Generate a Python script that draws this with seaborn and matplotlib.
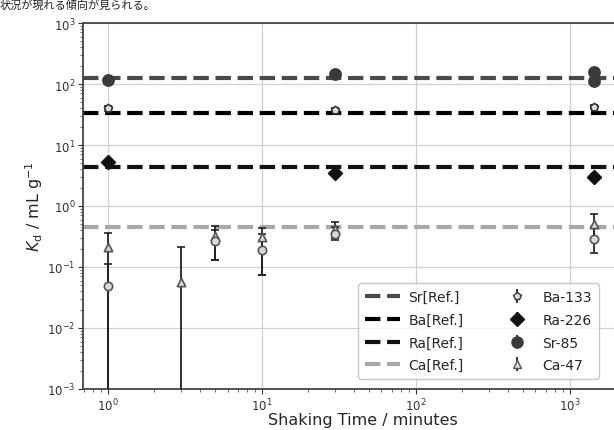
import numpy as np
import pandas as pd
import matplotlib
matplotlib.use("Agg")
import matplotlib.pyplot as plt
import seaborn as sns
from matplotlib.lines import Line2D
from matplotlib.ticker import NullFormatter, FixedLocator

# ---------------- data ----------------
ref_labels = ["Sr[Ref.]", "Ba[Ref.]", "Ra[Ref.]", "Ca[Ref.]"]
ref_values = [125.0, 33.0, 4.3, 0.45]

ba_x = [1, 30, 1440]
ba_y = [40.0, 38.0, 42.0]
ba_lo = [36.0, 35.0, 39.0]
ba_hi = [44.0, 41.0, 45.0]

ra_x = [1, 30, 1440]
ra_y = [5.2, 3.5, 3.0]
ra_lo = [4.8, 3.2, 2.7]
ra_hi = [5.6, 3.8, 3.3]

sr_x = [1, 30, 1440, 1440]
sr_y = [115.0, 145.0, 155.0, 110.0]
sr_lo = [105.0, 135.0, 140.0, 100.0]
sr_hi = [125.0, 155.0, 170.0, 120.0]

ca_x = [1, 3, 5, 10, 30, 1440]
ca_y = [0.21, 0.056, 0.32, 0.31, 0.42, 0.50]
ca_lo = [1e-5, 1e-5, 0.13, 0.075, 0.30, 0.30]
ca_hi = [0.36, 0.21, 0.47, 0.43, 0.55, 0.75]

ca2_x = [1, 5, 10, 30, 1440]
ca2_y = [0.048, 0.27, 0.19, 0.35, 0.29]
ca2_lo = [1e-5, 0.13, 0.075, 0.28, 0.17]
ca2_hi = [0.11, 0.40, 0.35, 0.45, 0.45]

x_ticks = [1, 10, 100, 1000]
y_ticks = [1e-3, 1e-2, 1e-1, 1, 10, 100, 1000]

x_label = "Shaking Time / minutes"
y_label = r"$K_\mathrm{d}$ / mL g$^{-1}$"
top_text = "状況が現れる傾向が見られる。"

# ---------------- style ----------------
sns.set_style("ticks")
plt.rcParams["font.family"] = ["DejaVu Sans", "Noto Sans CJK JP"]

fig = plt.figure(figsize=(6.14, 4.31), dpi=100)
ax = fig.add_axes([83 / 614, 41 / 431, 560 / 614, 366 / 431])

ref_colors = ["#4a4a4a", "#000000", "#111111", "#a8a8a8"]
ref_handles = []
for lab, val, col in zip(ref_labels, ref_values, ref_colors):
    ax.axhline(val, color=col, lw=3, ls="--", dashes=(3.7, 1.6), zorder=2)
    ref_handles.append(Line2D([], [], color=col, lw=3, ls="--", dashes=(3.7, 1.6)))


def series(x, y, lo, hi):
    y = np.asarray(y)
    return pd.DataFrame({"x": x, "y": y}), np.vstack([y - np.asarray(lo), np.asarray(hi) - y])


pt_handles = []
specs = [
    ("Ba-133", ba_x, ba_y, ba_lo, ba_hi, "p", 6, "#dcdcdc", "#333333"),
    ("Ra-226", ra_x, ra_y, ra_lo, ra_hi, "D", 7, "#111111", "#111111"),
    ("Sr-85", sr_x, sr_y, sr_lo, sr_hi, "o", 8, "#3a3a3a", "#3a3a3a"),
    ("Ca-47", ca_x, ca_y, ca_lo, ca_hi, "^", 6, "#d8d8d8", "#555555"),
]
for lab, x, y, lo, hi, mk, ms, fc, ec in specs:
    df, err = series(x, y, lo, hi)
    ax.errorbar(df["x"], df["y"], yerr=err, fmt="none", ecolor="#222222",
                elinewidth=1.3, capsize=3, capthick=1.2, zorder=3)
    sns.scatterplot(data=df, x="x", y="y", marker=mk, s=ms ** 2, color=fc,
                    edgecolor=ec, linewidth=1.2, ax=ax, zorder=4, legend=False)
    pt_handles.append(ax.errorbar([], [], yerr=[], fmt=mk, ms=ms, mfc=fc, mec=ec,
                                  ecolor="#222222", capsize=3, elinewidth=1.3))

# replicate Ca-47 run
df2, err2 = series(ca2_x, ca2_y, ca2_lo, ca2_hi)
ax.errorbar(df2["x"], df2["y"], yerr=err2, fmt="none", ecolor="#222222",
            elinewidth=1.3, capsize=3, capthick=1.2, zorder=3)
sns.scatterplot(data=df2, x="x", y="y", marker="o", s=36, color="#d8d8d8",
                edgecolor="#555555", linewidth=1.2, ax=ax, zorder=4, legend=False)

ax.set_xscale("log")
ax.set_yscale("log")
ax.set_xlim(0.69, 3000)
ax.set_ylim(1e-3, 1e3)
ax.xaxis.set_major_locator(FixedLocator(x_ticks))
ax.yaxis.set_major_locator(FixedLocator(y_ticks))
ax.xaxis.set_minor_formatter(NullFormatter())
ax.yaxis.set_minor_formatter(NullFormatter())
ax.grid(True, which="major", color="#d0d0d0", lw=0.9)
ax.set_axisbelow(True)
for s in ["left", "bottom", "top"]:
    ax.spines[s].set_color("#444444")
    ax.spines[s].set_linewidth(1.3)
ax.tick_params(axis="both", which="major", labelsize=8.5, colors="#333333", length=3.5, pad=2)
ax.tick_params(axis="both", which="minor", length=2, colors="#555555")
ax.set_xlabel(x_label, fontsize=11.5, labelpad=-1)
ax.set_ylabel(y_label, fontsize=11.5, labelpad=1)

leg = fig.legend(ref_handles + pt_handles, ref_labels + [s[0] for s in specs],
                 ncol=2, fontsize=10, loc="lower right",
                 bbox_to_anchor=(606 / 614, 44 / 431), labelspacing=0.62,
                 columnspacing=2.6, handlelength=2.5, handletextpad=0.6,
                 frameon=True, borderpad=0.5)
leg.get_frame().set_edgecolor("#bbbbbb")

fig.text(0.0, 1 - 9 / 431, top_text, fontsize=8, va="baseline", ha="left",
         family=["Noto Sans CJK JP", "DejaVu Sans"], color="#222222")

fig.savefig("out.png", dpi=100)
